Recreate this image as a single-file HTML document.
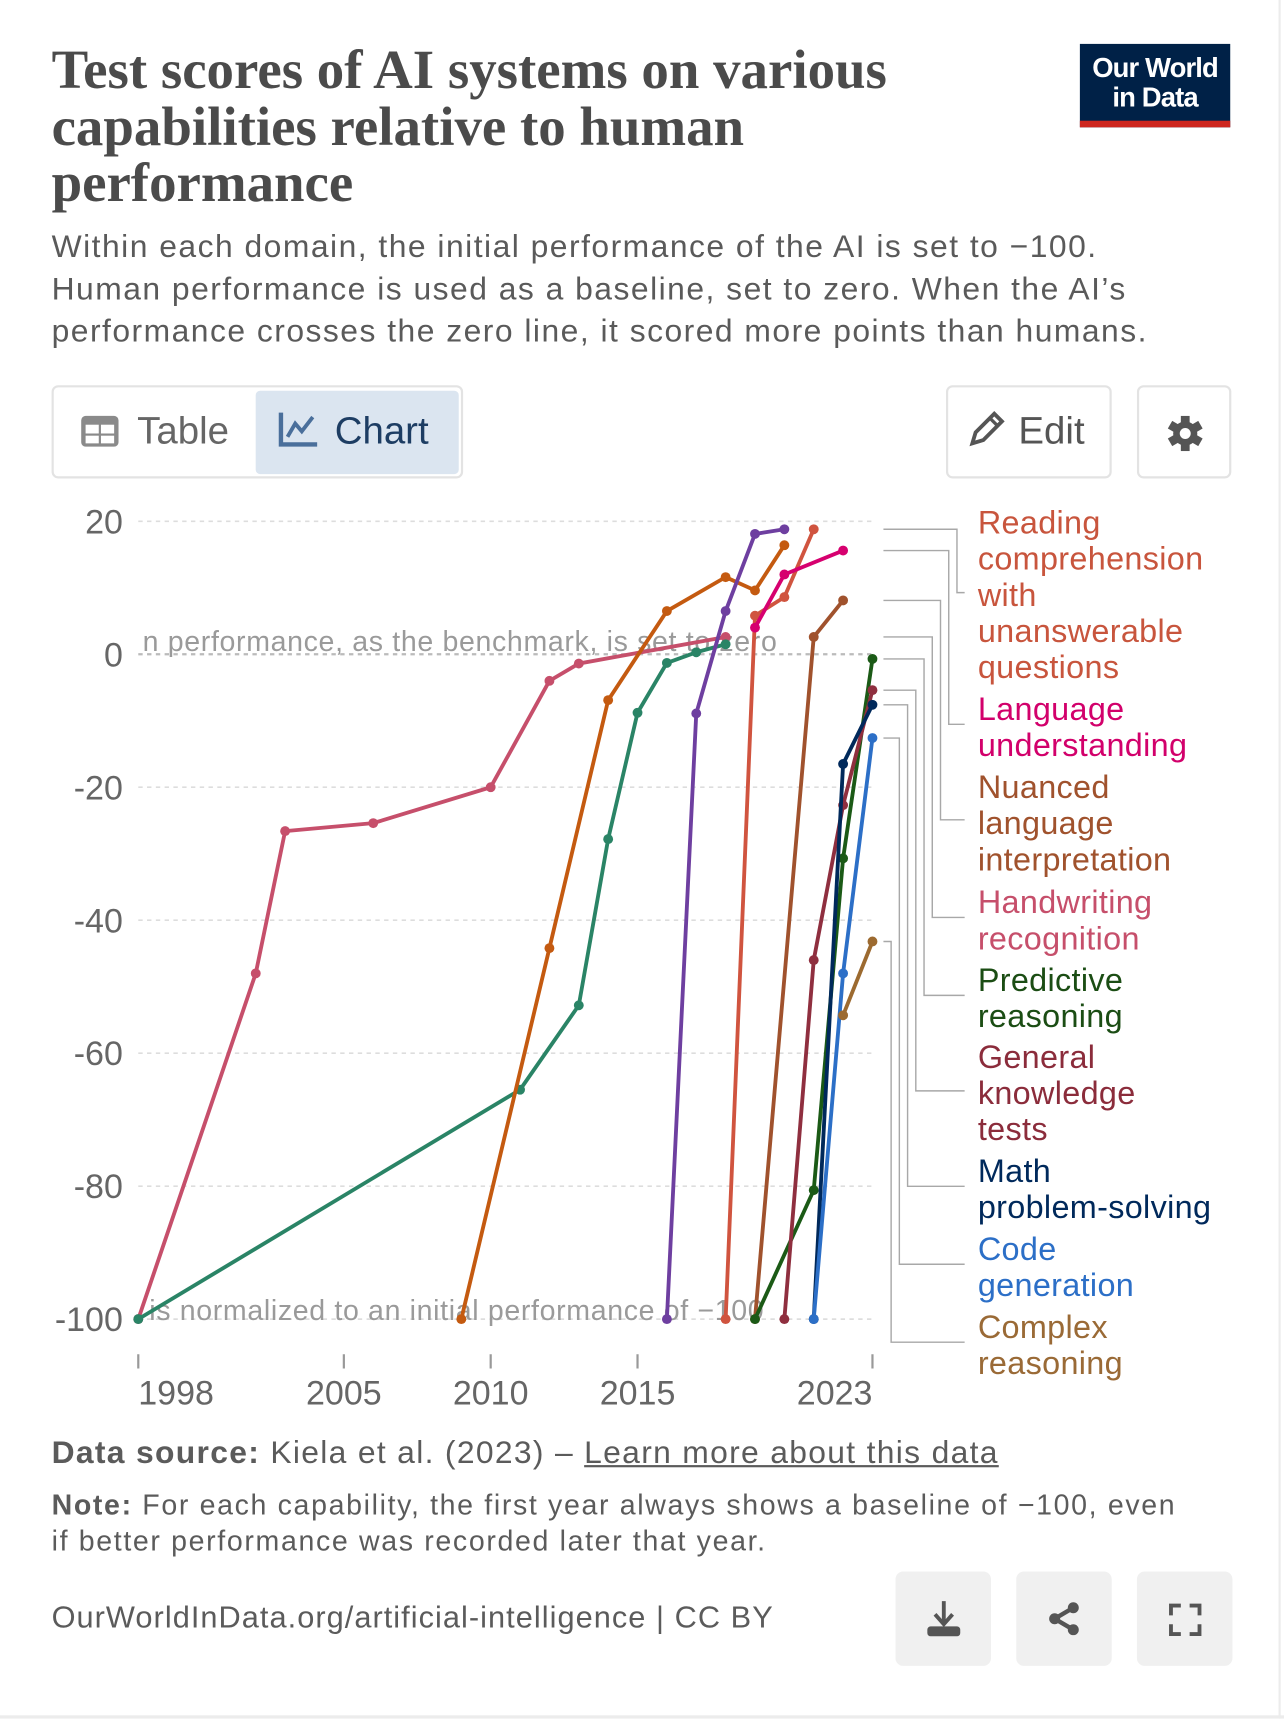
<!DOCTYPE html>
<html><head><meta charset="utf-8">
<style>
html,body{margin:0;padding:0;background:#fff;width:1284px;height:1718px;overflow:hidden}
#page{position:absolute;left:0;top:0;width:1170px;height:1566px;transform:scale(1.09744);transform-origin:0 0;font-family:"Liberation Sans",sans-serif;color:#5b5b5b}
.abs{position:absolute}
.title{left:47px;top:38px;width:900px;font-family:"Liberation Serif",serif;font-weight:bold;font-size:50px;line-height:51.5px;color:#4b4b4b;white-space:nowrap}
.sub{left:47px;top:206px;width:1100px;font-size:29px;line-height:38.5px;color:#5a5a5a;letter-spacing:1.35px;white-space:nowrap}
.logo{left:984px;top:40px;width:137px;height:76px;background:#002147;color:#fff;text-align:center;font-size:25px;line-height:27px;font-weight:bold;letter-spacing:-0.8px}
.logo .bar{position:absolute;left:0;bottom:0;width:100%;height:6px;background:#ce261e}
.btn{border:2px solid #e3e3e3;border-radius:6px;box-sizing:border-box;background:#fff}
.fbtn{background:#f0f0f0;border-radius:7px;width:87px;height:86px;top:1432px}
.leg{font-size:29.5px;line-height:33px;left:891px;white-space:nowrap;letter-spacing:0.3px}
</style></head><body>
<div id="page">
<div class="abs" style="right:3px;top:0;width:2px;height:1566px;background:#ececec"></div>
<div class="abs" style="left:0;top:1563px;width:1170px;height:3px;background:#ececec"></div>
<div class="abs title">Test scores of AI systems on various<br>capabilities relative to human<br>performance</div>
<div class="abs sub">Within each domain, the initial performance of the AI is set to −100.<br>Human performance is used as a baseline, set to zero. When the AI’s<br>performance crosses the zero line, it scored more points than humans.</div>
<div class="abs logo"><div style="padding-top:9px">Our World<br>in Data</div><div class="bar"></div></div>

<div class="abs btn" style="left:47px;top:351px;width:375px;height:85px">
  <div class="abs" style="left:24px;top:20px;font-size:35px;color:#666">
    <svg width="36" height="30" style="vertical-align:-4px;margin-right:16px"><rect x="1" y="1" width="34" height="28" rx="4" fill="#8a8a8a"/><rect x="5" y="9" width="12" height="8" fill="#fff"/><rect x="19" y="9" width="12" height="8" fill="#fff"/><rect x="5" y="19" width="12" height="7" fill="#fff"/><rect x="19" y="19" width="12" height="7" fill="#fff"/></svg>Table</div>
  <div class="abs" style="left:184px;top:3px;width:185px;height:76px;background:#dbe5f0;border-radius:4px">
    <div class="abs" style="left:20px;top:17px;font-size:35px;color:#1d3d63;white-space:nowrap">
    <svg width="38" height="34" style="vertical-align:-4px;margin-right:14px"><path d="M3 2 V31 H36" stroke="#4a6f9b" stroke-width="4" fill="none"/><path d="M9 24 L16 12 L22 19 L32 6" stroke="#4a6f9b" stroke-width="3.5" fill="none"/></svg>Chart</div>
  </div>
</div>
<div class="abs btn" style="left:862px;top:351px;width:151px;height:85px">
  <div class="abs" style="left:18px;top:20px;font-size:35px;color:#555;white-space:nowrap"><svg width="34" height="34" style="vertical-align:-4px;margin-right:12px"><path d="M4 30 L7 20 L24 3 L31 10 L14 27 Z" fill="none" stroke="#555" stroke-width="3.5"/><path d="M20 7 L27 14" stroke="#555" stroke-width="3"/></svg>Edit</div>
</div>
<div class="abs btn" style="left:1036px;top:351px;width:86px;height:85px">
  <svg class="abs" style="left:24px;top:24px" width="36" height="36" viewBox="0 0 36 36"><g fill="#555" transform="translate(18 18)"><circle r="11"/><rect x="-4" y="-16" width="8" height="32"/><rect x="-4" y="-16" width="8" height="32" transform="rotate(60)"/><rect x="-4" y="-16" width="8" height="32" transform="rotate(120)"/></g><circle cx="18" cy="18" r="5" fill="#fff"/></svg>
</div>

<svg id="chart" class="abs" style="left:0;top:440px" width="1170" height="860" viewBox="0 440 1170 860"></svg>

<div class="abs leg" style="top:460px;color:#c8553d">Reading<br>comprehension<br>with<br>unanswerable<br>questions</div>
<div class="abs leg" style="top:630px;color:#d2006b">Language<br>understanding</div>
<div class="abs leg" style="top:701px;color:#a0522d">Nuanced<br>language<br>interpretation</div>
<div class="abs leg" style="top:806px;color:#c64f6b">Handwriting<br>recognition</div>
<div class="abs leg" style="top:877px;color:#1b4d14">Predictive<br>reasoning</div>
<div class="abs leg" style="top:947px;color:#8b2c3b">General<br>knowledge<br>tests</div>
<div class="abs leg" style="top:1051px;color:#00295b">Math<br>problem-solving</div>
<div class="abs leg" style="top:1122px;color:#2c6fc7">Code<br>generation</div>
<div class="abs leg" style="top:1193px;color:#9a6a36">Complex<br>reasoning</div>

<div class="abs" style="left:47px;top:1308px;font-size:29px;letter-spacing:1.2px;color:#5b5b5b;white-space:nowrap"><b>Data source:</b> Kiela et al. (2023) – <span style="text-decoration:underline">Learn more about this data</span></div>
<div class="abs" style="left:47px;top:1355px;font-size:26px;letter-spacing:1.5px;line-height:33px;color:#5b5b5b;white-space:nowrap"><b>Note:</b> For each capability, the first year always shows a baseline of −100, even<br>if better performance was recorded later that year.</div>
<div class="abs" style="left:47px;top:1458px;font-size:28px;letter-spacing:0.95px;color:#5b5b5b;white-space:nowrap">OurWorldInData.org/artificial-intelligence | CC BY</div>
<div class="abs fbtn" style="left:816px"><svg class="abs" style="left:27px;top:25px" width="34" height="36"><path d="M17 2 V22 M9 14 L17 23 L25 14" stroke="#555" stroke-width="3.5" fill="none"/><rect x="2" y="25" width="30" height="9" rx="3" fill="#555"/></svg></div>
<div class="abs fbtn" style="left:926px"><svg class="abs" style="left:28px;top:27px" width="32" height="32"><circle cx="24" cy="6" r="5" fill="#555"/><circle cx="7" cy="16" r="5" fill="#555"/><circle cx="24" cy="26" r="5" fill="#555"/><path d="M24 6 L7 16 L24 26" stroke="#555" stroke-width="4" fill="none"/></svg></div>
<div class="abs fbtn" style="left:1036px"><svg class="abs" style="left:29px;top:29px" width="30" height="30"><path d="M2 11 V2 H11 M19 2 H28 V11 M28 19 V28 H19 M11 28 H2 V19" stroke="#555" stroke-width="3.5" fill="none"/></svg></div>
</div>

<script>
const yTicks = [20, 0, -20, -40, -60, -80, -100];
const xTicks = [1998, 2005, 2010, 2015, 2023];
const seriesNames = ["Handwriting recognition","Speech recognition","Image recognition","Reading comprehension","Reading comprehension with unanswerable questions","Language understanding","Nuanced language interpretation","Predictive reasoning","General knowledge tests","Math problem-solving","Code generation","Complex reasoning"];
const seriesColors = ["#c64f6b","#2a8466","#c45a10","#6e3fa0","#d0543f","#d6006f","#a0522d","#1b5a16","#8f2f3f","#00295b","#2c6fc7","#9c6a30"];
const handwritingYears = [1998,2002,2003,2006,2010,2012,2013,2018];
const handwritingValues = [-100,-48,-26.6,-25.4,-20,-4,-1.4,2.6];
const speechYears = [1998,2011,2013,2014,2015,2016,2017,2018];
const speechValues = [-100,-65.5,-52.8,-27.8,-8.8,-1.3,0.3,1.5];
const imageYears = [2009,2012,2014,2016,2018,2019,2020];
const imageValues = [-100,-44.2,-6.9,6.5,11.6,9.6,16.4];
const readingYears = [2016,2017,2018,2019,2020];
const readingValues = [-100,-8.9,6.5,18.1,18.8];
const unanswerableYears = [2018,2019,2020,2021];
const unanswerableValues = [-100,5.8,8.6,18.8];
const languageYears = [2019,2020,2022];
const languageValues = [4,12,15.6];
const nuancedYears = [2019,2021,2022];
const nuancedValues = [-100,2.6,8.1];
const predictiveYears = [2019,2021,2022,2023];
const predictiveValues = [-100,-80.6,-30.7,-0.7];
const knowledgeYears = [2020,2021,2022,2023];
const knowledgeValues = [-100,-46,-22.7,-5.4];
const mathYears = [2021,2022,2023];
const mathValues = [-100,-16.5,-7.6];
const codeYears = [2021,2022,2023];
const codeValues = [-100,-48,-12.6];
const complexYears = [2022,2023];
const complexValues = [-54.3,-43.2];
const allYears = [handwritingYears,speechYears,imageYears,readingYears,unanswerableYears,languageYears,nuancedYears,predictiveYears,knowledgeYears,mathYears,codeYears,complexYears];
const allValues = [handwritingValues,speechValues,imageValues,readingValues,unanswerableValues,languageValues,nuancedValues,predictiveValues,knowledgeValues,mathValues,codeValues,complexValues];
const legendSeries = [4,5,6,0,7,8,9,10,11];
const legendTargets = [540,660,747,836,907,994,1081,1152,1223];

const NS = "http://www.w3.org/2000/svg";
const svg = document.getElementById('chart');
const X0 = 126, X1 = 795, Y0 = 475, Y1 = 1202;
function xs(y){ return X0 + (y - 1998) / (2023 - 1998) * (X1 - X0); }
function ys(v){ return Y0 + (20 - v) / 120 * (Y1 - Y0); }
function mk(tag, attrs){ const e = document.createElementNS(NS, tag); for (const k in attrs) e.setAttribute(k, attrs[k]); svg.appendChild(e); return e; }

yTicks.forEach(v => {
  const g = mk('line', {x1: X0, x2: X1, y1: ys(v), y2: ys(v), stroke: v === 0 ? '#bbb' : '#ddd', 'stroke-width': v === 0 ? 2 : 1.5, 'stroke-dasharray': '4,4'});
  
  
  const t = mk('text', {x: 112, y: ys(v) + 11, 'text-anchor': 'end', 'font-size': 31, fill: '#666', 'font-family': 'Liberation Sans, sans-serif'});
  t.textContent = v;
  
  
});
xTicks.forEach((yr, i) => {
  const l = mk('line', {x1: xs(yr), x2: xs(yr), y1: 1234, y2: 1247, stroke: '#999', 'stroke-width': 2});
  
  
  const anchor = i === 0 ? 'start' : (i === xTicks.length - 1 ? 'end' : 'middle');
  const t = mk('text', {x: xs(yr), y: 1280, 'text-anchor': anchor, 'font-size': 31, fill: '#666', 'font-family': 'Liberation Sans, sans-serif'});
  t.textContent = yr;
  
  
});
const a1 = mk('text', {x: 130, y: 593, 'font-size': 26, fill: '#9a9a9a', 'font-family': 'Liberation Sans, sans-serif', 'letter-spacing': 0.6});
a1.textContent = 'n performance, as the benchmark, is set to zero';


const a2 = mk('text', {x: 136, y: 1203, 'font-size': 26, fill: '#9a9a9a', 'font-family': 'Liberation Sans, sans-serif', 'letter-spacing': 0.6});
a2.textContent = 'is normalized to an initial performance of −100';



allYears.forEach((yrs, s) => {
  const vals = allValues[s];
  const pts = yrs.map((y, i) => xs(y) + ',' + ys(vals[i])).join(' ');
  const pl = mk('polyline', {points: pts, fill: 'none', stroke: seriesColors[s], 'stroke-width': 3.5, 'stroke-linejoin': 'round'});
  
  
  yrs.forEach((y, i) => {
    const c = mk('circle', {cx: xs(y), cy: ys(vals[i]), r: 4.5, fill: seriesColors[s]});
    
    
  });
});

legendSeries.forEach((s, i) => {
  const vals = allValues[s];
  const ey = ys(vals[vals.length - 1]);
  const vx = 872 - i * 7.5;
  const p = mk('path', {d: 'M805 ' + ey + ' H' + vx + ' V' + legendTargets[i] + ' H879', fill: 'none', stroke: '#a8a8a8', 'stroke-width': 1.3});
  
  
});
</script>
</body></html>
